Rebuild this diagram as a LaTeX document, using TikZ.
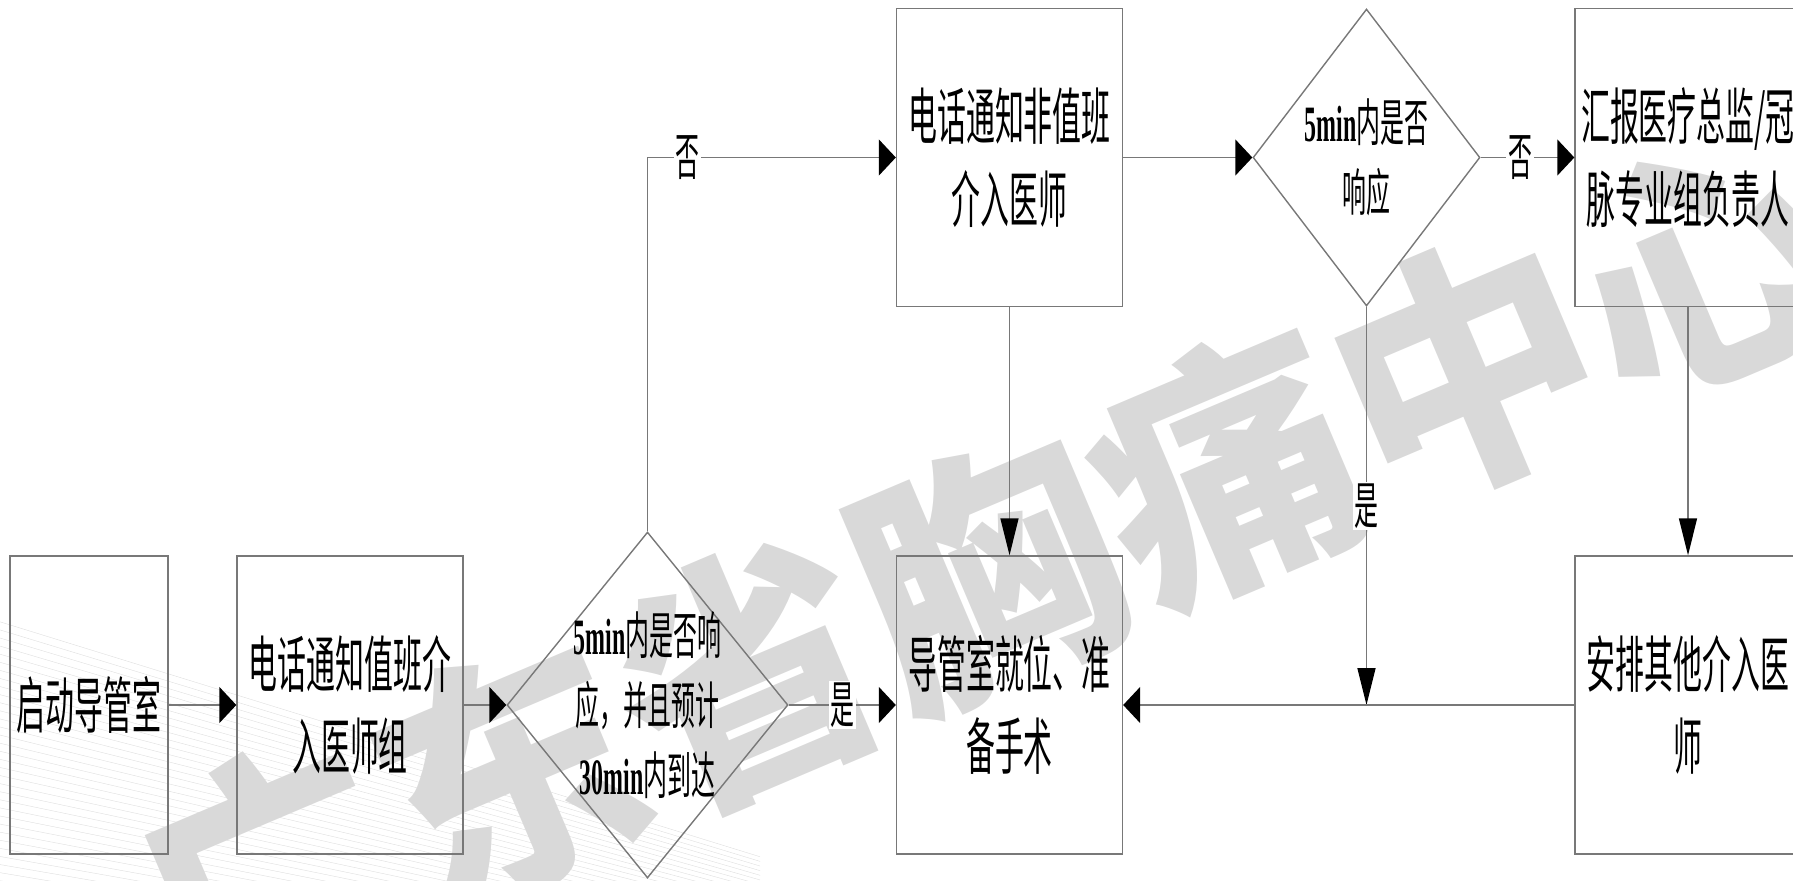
\documentclass[tikz,border=0pt]{standalone}
\usepackage{fontspec}
\usepackage{tikz}
\usetikzlibrary{shapes.geometric, arrows.meta}
\newfontfamily\cjk[FakeStretch=0.47]{Noto Sans CJK SC}
\newfontfamily\wmfont{Noto Sans CJK SC}
\newfontfamily\lat[FakeStretch=0.47]{Liberation Serif}
\definecolor{linegray}{RGB}{120,120,120}
\definecolor{markgray}{RGB}{217,217,217}
\newcommand{\boxfont}{\cjk\fontsize{35pt}{47pt}\selectfont}
\newcommand{\askfont}{\cjk\fontsize{29pt}{40pt}\selectfont}

\begin{document}
\begin{tikzpicture}[
    x=0.02cm, y=-0.02cm,
    box/.style={rectangle, draw=linegray, line width=0.8pt, minimum width=4.52cm, minimum height=5.96cm, inner sep=0pt, align=center, font=\boxfont},
    ask/.style={diamond, draw=linegray, line width=0.8pt, inner sep=0pt},
    asktext/.style={align=center, font=\askfont},
    link/.style={draw=linegray, line width=0.8pt},
    harrow/.style={link, -{Triangle[length=0.34cm, width=0.72cm, color=black]}},
    varrow/.style={link, -{Triangle[length=0.74cm, width=0.36cm, color=black]}},
    tag/.style={fill=white, inner sep=1pt, font=\askfont},
    hatch/.style={draw=black!12, line width=0.25pt}
]
\useasboundingbox (0,0) rectangle (1793,880);

% Watermark
\begin{scope}
    \clip (0,600) rectangle (760,880);
    \foreach \k in {0,...,40}
        \draw[hatch] (-200,560+\k*9) -- (900,900+\k*4);
\end{scope}
\node[text=markgray, rotate=23, font=\wmfont\bfseries\fontsize{148pt}{148pt}\selectfont] (mark) at (987,572) {广东省胸痛中心};

% Bottom row
\node[box, minimum width=3.16cm] (start) at (89,705) {启动导管室};
\node[box] (oncall) at (350,705) {电话通知值班介\\入医师组};
\node[ask, minimum width=5.62cm, minimum height=6.92cm] (ask1) at (647.5,705) {};
\node[asktext] (ask1text) at (ask1) {{\lat\bfseries 5min}内是否响\\应，并且预计\\{\lat\bfseries 30min}内到达};
\node[box] (ready) at (1009.5,705) {导管室就位、准\\备手术};
\node[box] (other) at (1688,705) {安排其他介入医\\师};

% Top row
\node[box] (offcall) at (1009.5,157.5) {电话通知非值班\\介入医师};
\node[ask, minimum width=4.54cm, minimum height=5.94cm] (ask2) at (1366.5,157.5) {};
\node[asktext] (ask2text) at (ask2) {{\lat\bfseries 5min}内是否\\响应};
\node[box] (report) at (1688,157.5) {汇报医疗总监/冠\\脉专业组负责人};

% Arrows
\draw[harrow] (start) -- (oncall);
\draw[harrow] (oncall) -- (ask1);
\draw[harrow] (ask1) -- node[tag] {是} (ready);
\draw[harrow] (ask1.north) |- node[tag, pos=0.58] {否} (offcall);
\draw[harrow] (offcall) -- (ask2);
\draw[harrow] (ask2) -- node[tag, pos=0.42] {否} (report);
\draw[varrow] (offcall) -- (ready);
\draw[varrow] (report) -- (other);
\coordinate (join) at (ask2.south |- other.west);
\draw[varrow] (ask2.south) -- node[tag] {是} (join);
\draw[harrow] (other) -- (ready);

\end{tikzpicture}
\end{document}
